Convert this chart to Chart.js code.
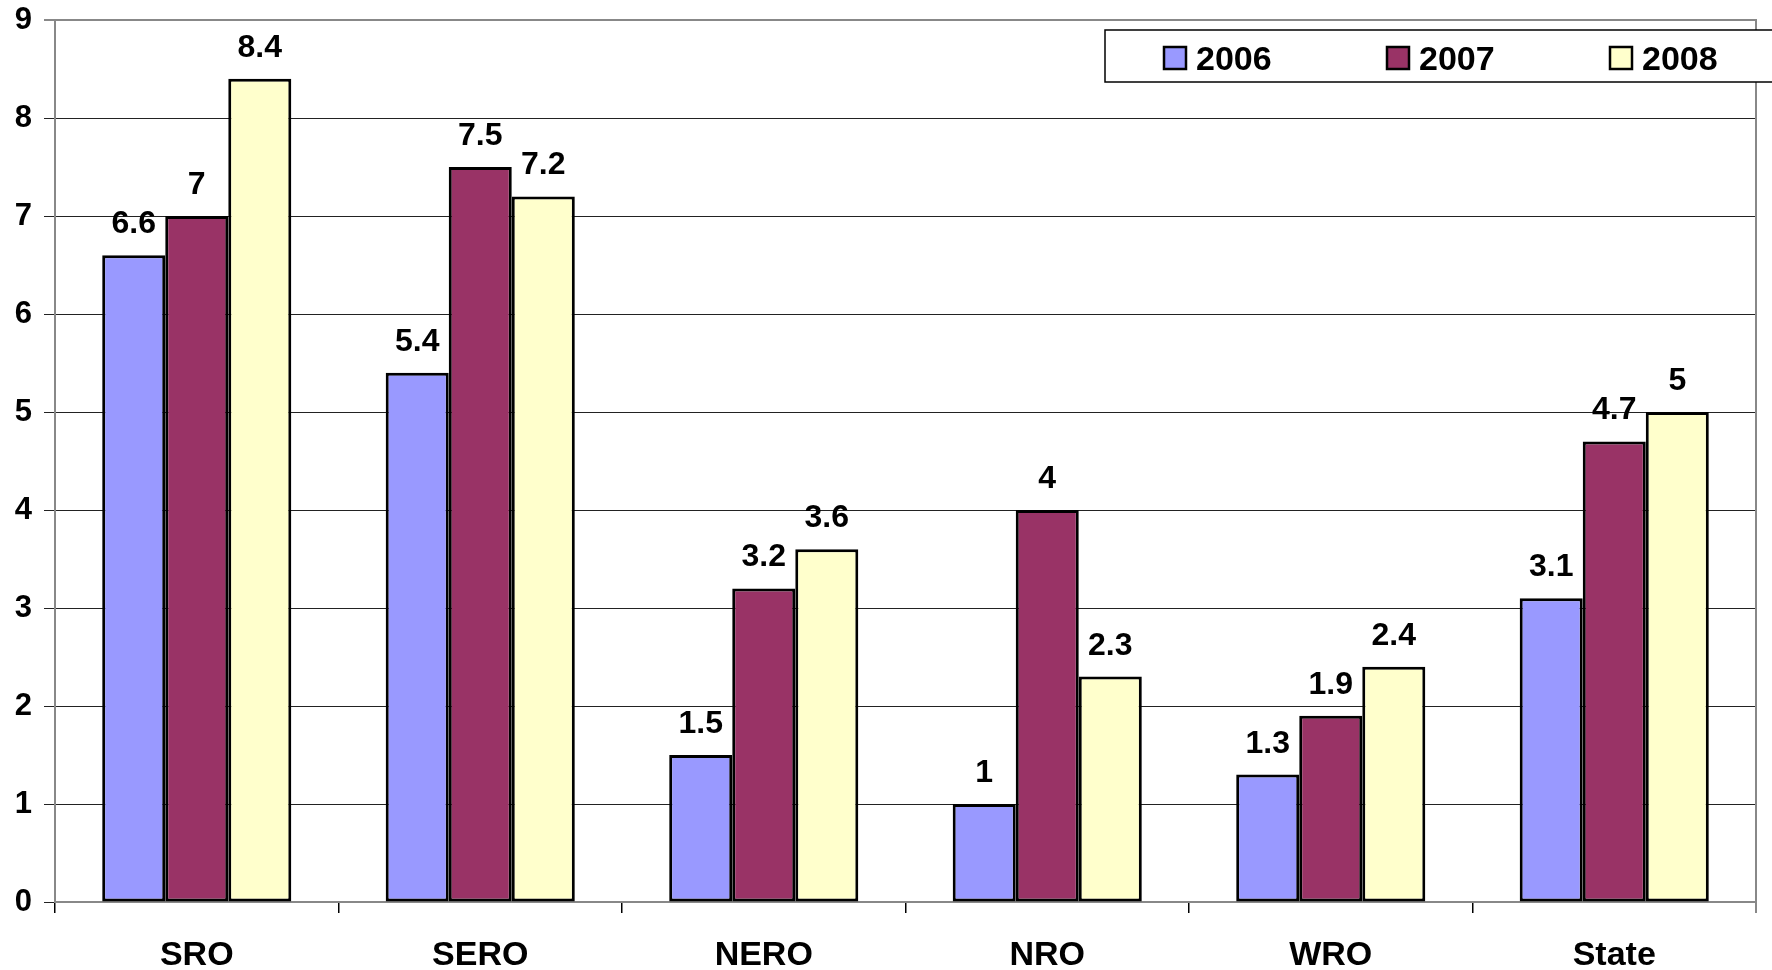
<!DOCTYPE html>
<html>
<head>
<meta charset="utf-8">
<script src="https://cdn.jsdelivr.net/npm/chart.js@4.4.1/dist/chart.umd.min.js"></script>
<style>
  html, body { margin: 0; padding: 0; background: #fff; overflow: hidden; }
</style>
</head>
<body>
<canvas id="chart" width="1772" height="970"></canvas>
<script>
const regions = ['SRO', 'SERO', 'NERO', 'NRO', 'WRO', 'State'];
const years = ['2006', '2007', '2008'];
const values2006 = [6.6, 5.4, 1.5, 1.0, 1.3, 3.1];
const values2007 = [7.0, 7.5, 3.2, 4.0, 1.9, 4.7];
const values2008 = [8.4, 7.2, 3.6, 2.3, 2.4, 5.0];
const colors = ['#9999FF', '#993366', '#FFFFCC'];
const yTicks = [0, 1, 2, 3, 4, 5, 6, 7, 8, 9];

const FONT = '"Liberation Sans", Arial, sans-serif';

// value labels above each bar
const barLabels = {
  id: 'barLabels',
  afterDatasetsDraw(chart) {
    const ctx = chart.ctx;
    ctx.save();
    ctx.font = 'bold 32px ' + FONT;
    ctx.fillStyle = '#000';
    ctx.textAlign = 'center';
    ctx.textBaseline = 'alphabetic';
    chart.data.datasets.forEach((ds, i) => {
      chart.getDatasetMeta(i).data.forEach((bar, j) => {
        ctx.fillText(String(ds.data[j]), bar.x, bar.y - 22);
      });
    });
    ctx.restore();
  }
};

// gray frame on top and right of the plot, and the boxed legend
const frameAndLegend = {
  id: 'frameAndLegend',
  afterDraw(chart) {
    const ctx = chart.ctx;
    const a = chart.chartArea;
    ctx.save();
    ctx.strokeStyle = '#888';
    ctx.lineWidth = 2;
    ctx.beginPath();
    ctx.moveTo(a.left, a.top);
    ctx.lineTo(a.right, a.top);
    ctx.lineTo(a.right, a.bottom + 11);
    ctx.stroke();

    // legend box
    ctx.fillStyle = '#fff';
    ctx.fillRect(1105, 30, 700, 52);
    ctx.strokeStyle = '#000';
    ctx.lineWidth = 1.5;
    ctx.strokeRect(1105, 30, 700, 52);
    ctx.font = 'bold 34px ' + FONT;
    ctx.textBaseline = 'alphabetic';
    ctx.textAlign = 'left';
    chart.data.datasets.forEach((ds, i) => {
      const x = 1164 + i * 223;
      ctx.fillStyle = ds.backgroundColor;
      ctx.fillRect(x, 47, 22, 22);
      ctx.strokeStyle = '#000';
      ctx.lineWidth = 2.5;
      ctx.strokeRect(x, 47, 22, 22);
      ctx.fillStyle = '#000';
      ctx.fillText(ds.label, x + 32, 70);
    });
    ctx.restore();
  }
};

new Chart(document.getElementById('chart'), {
  type: 'bar',
  data: {
    labels: regions,
    datasets: [
      { label: years[0], data: values2006, backgroundColor: colors[0] },
      { label: years[1], data: values2007, backgroundColor: colors[1] },
      { label: years[2], data: values2008, backgroundColor: colors[2] }
    ].map(d => Object.assign(d, {
      borderColor: '#000',
      borderWidth: 3,
      borderSkipped: false,
      categoryPercentage: 0.667,
      barPercentage: 1.0
    }))
  },
  options: {
    responsive: false,
    devicePixelRatio: 1,
    animation: false,
    layout: { padding: { top: 20, right: 16, left: 0, bottom: 0 } },
    plugins: {
      legend: { display: false },
      tooltip: { enabled: false }
    },
    scales: {
      x: {
        grid: {
          offset: true,
          drawOnChartArea: false,
          drawTicks: true,
          tickLength: 11,
          color: '#000',
          lineWidth: 1.5
        },
        border: { color: '#888', width: 2 },
        ticks: {
          color: '#000',
          font: { family: FONT, size: 34, weight: 'bold' },
          padding: 22
        },
        afterFit(scale) {
          scale.height = 68;
          scale.paddingLeft = 0;
          scale.paddingRight = 0;
        }
      },
      y: {
        min: 0,
        max: 9,
        afterBuildTicks(scale) { scale.ticks = yTicks.map(v => ({ value: v })); },
        grid: {
          color: ctx => ctx.tick && ctx.tick.value === 9 ? '#888' : '#222',
          lineWidth: ctx => ctx.tick && ctx.tick.value === 9 ? 2 : 1,
          tickLength: 11
        },
        border: { color: '#888', width: 2 },
        ticks: {
          color: '#000',
          font: { family: FONT, size: 31, weight: 'bold' },
          padding: 12
        },
        afterFit(scale) {
          scale.width = 55;
          scale.paddingTop = 0;
          scale.paddingBottom = 0;
        }
      }
    }
  },
  plugins: [barLabels, frameAndLegend]
});
</script>
</body>
</html>
